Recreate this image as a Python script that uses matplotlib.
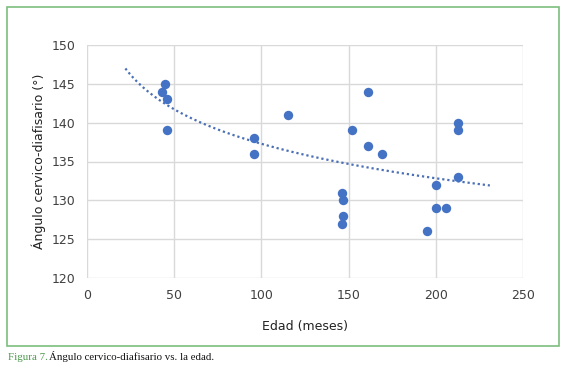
import matplotlib.pyplot as plt
import numpy as np
from matplotlib.patches import Rectangle

edad = [45, 43, 46, 46, 96, 96, 115, 161, 152, 161, 169, 213, 213, 213,
        200, 146, 147, 147, 146, 200, 206, 195]
angulo = [145, 144, 143, 139, 138, 136, 141, 144, 139, 137, 136, 140, 139, 133,
          132, 131, 130, 128, 127, 129, 129, 126]
x_ticks = [0, 50, 100, 150, 200, 250]
y_ticks = [120, 125, 130, 135, 140, 145, 150]

fig = plt.figure(figsize=(5.67, 3.71), dpi=100)
ax = fig.add_axes([87/567, 1-278/371, (523-87)/567, (278-45)/371])

# logarithmic trendline (like Excel)
b, a = np.polyfit(np.log(edad), angulo, 1)
xt = np.linspace(22, 231, 200)
ax.plot(xt, a + b*np.log(xt), linestyle=(0, (1, 1.3)), color='#4a6fb5', lw=1.6, zorder=2)

ax.scatter(edad, angulo, s=46, color='#4472C4', zorder=3, linewidths=0)

ax.set_xlim(0, 250)
ax.set_ylim(120, 150)
ax.set_xticks(x_ticks)
ax.set_yticks(y_ticks)
ax.grid(True, color='#d9d9d9', lw=1)
ax.set_axisbelow(True)
for s in ax.spines.values():
    s.set_visible(False)
ax.tick_params(length=0, labelsize=9, colors='#404040', pad=8)
ax.set_xlabel('Edad (meses)', fontsize=9, color='#222222', labelpad=13)
ax.set_ylabel('Ángulo cervico-diafisario (°)', fontsize=9, color='#222222', labelpad=4)

fig.patches.append(Rectangle((7/567, 1-346/371), (559-7)/567, (346-7)/371,
                             transform=fig.transFigure, fill=False,
                             edgecolor='#7dbf7d', lw=1.2))
fig.text(8/567, 1-357/371, 'Figura 7.', color='#4a9a4a', fontsize=7.8,
         family='Liberation Serif', va='center')
fig.text(49/567, 1-357/371, 'Ángulo cervico-diafisario vs. la edad.', color='#111111',
         fontsize=7.8, family='Liberation Serif', va='center')

plt.savefig('out.png', dpi=100)
